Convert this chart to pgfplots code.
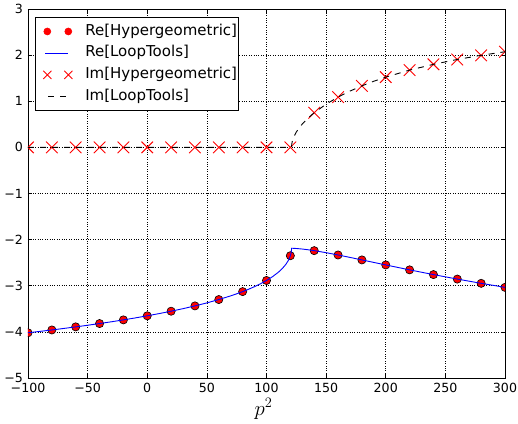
\documentclass[border=0pt]{standalone}
\usepackage{fontspec}
\setmainfont{DejaVu Sans}
\usepackage{pgfplots}
\pgfplotsset{compat=1.18}
\pgfplotsset{
  circleg/.style={legend image code/.code={%
    \path[draw=none, fill=none] (-10pt,-4pt) (39pt,4pt);
    \draw[##1, mark options={fill=red, draw=red, scale=0.85}] plot coordinates {(2pt,0pt) (23pt,0pt)};}},
  crossleg/.style={legend image code/.code={%
    \path[draw=none, fill=none] (-10pt,-4pt) (39pt,4pt);
    \draw[##1, mark options={draw=red, line width=0.9pt, scale=0.7}] plot coordinates {(2pt,0pt) (23pt,0pt)};}},
  lineleg/.style={legend image code/.code={%
    \path[draw=none, fill=none] (-10pt,-4pt) (39pt,4pt);
    \draw[##1, #1] (0pt,0pt) -- (23pt,0pt);}},
}

\begin{document}
\begin{tikzpicture}
\begin{axis}[
  at={(0,0)}, anchor=south west,
  scale only axis, width=477pt, height=369pt,
  xmin=-100, xmax=300, ymin=-5, ymax=3,
  xtick={-100,-50,...,300},
  xticklabels={−100,−50,0,50,100,150,200,250,300},
  ytick={-5,-4,...,3},
  yticklabels={−5,−4,−3,−2,−1,0,1,2,3},
  tick label style={font=\fontsize{12.6}{15}\selectfont},
  yticklabel style={xshift=-1.5pt},
  xticklabel style={yshift=-1.2pt},
  tick align=inside, major tick length=4.4pt,
  every tick/.style={black, line width=0.6pt},
  axis line style={black, line width=0.8pt},
  grid=major, major grid style={black, dotted, line width=0.6pt},
  xlabel={$p^2$},
  xlabel style={font=\fontsize{22}{26}\selectfont, at={(axis description cs:0.5,0)},
    anchor=base, yshift=-37.5pt, xshift=-3pt},
  clip marker paths=true,
  legend cell align=left,
  legend style={at={(0.0147,0.978)}, anchor=north west, draw,
    line width=0.6pt, fill=white, inner xsep=0pt, inner ysep=6.8pt,
    row sep=7.2pt,
    font=\fontsize{15}{18}\selectfont,
    nodes={inner xsep=1pt, inner ysep=0pt, text height=11pt, text depth=3.5pt}},
]
% Re[Hypergeometric]
\addplot[only marks, mark=*, mark size=4.1pt, mark options={fill=red, draw=black, line width=0.6pt}, circleg]
coordinates {
(-100,-4.0196) (-80,-3.9582) (-60,-3.8917) (-40,-3.8194) (-20,-3.7400)
(0,-3.6517) (20,-3.5519) (40,-3.4367) (60,-3.2993) (80,-3.1268)
(100,-2.8859) (120,-2.3492) (140,-2.2388) (160,-2.3326) (180,-2.4396)
(200,-2.5487) (220,-2.6555) (240,-2.7579) (260,-2.8552) (280,-2.9474)
(300,-3.0346)
};
\addlegendentry{Re[Hypergeometric]}
% Re[LoopTools]
\addplot[blue, line width=0.9pt, no marks, lineleg={draw=blue, line width=1pt}]
coordinates {
(-100,-4.0196) (-90,-3.9894) (-80,-3.9582) (-70,-3.9256) (-60,-3.8917)
(-50,-3.8564) (-40,-3.8194) (-30,-3.7807) (-20,-3.7400) (-10,-3.6971)
(0,-3.6517) (10,-3.6034) (20,-3.5519) (30,-3.4965) (40,-3.4367)
(50,-3.3713) (60,-3.2993) (70,-3.2188) (75,-3.1744) (80,-3.1268)
(81,-3.1169) (85,-3.0753) (90,-3.0189) (95,-2.9564) (100,-2.8859)
(105,-2.8043) (110,-2.7057) (113,-2.6334) (116,-2.5436) (118,-2.4654)
(119,-2.4153) (120,-2.3492) (120.5,-2.3019) (120.8,-2.2597) (120.95,-2.2232)
(120.99,-2.2029) (121,-2.1865) (121.05,-2.1866) (121.2,-2.1867) (121.5,-2.1870)
(122,-2.1876) (123,-2.1889) (125,-2.1923) (130,-2.2041) (135,-2.2199)
(140,-2.2388) (150,-2.2830) (160,-2.3326) (170,-2.3854) (180,-2.4396)
(190,-2.4943) (200,-2.5487) (220,-2.6555) (240,-2.7579) (260,-2.8552)
(280,-2.9474) (300,-3.0346)
};
\addlegendentry{Re[LoopTools]}
% Im[Hypergeometric]
\addplot[only marks, mark=x, mark size=8.2pt, mark options={draw=red, line width=0.9pt}, crossleg]
coordinates {
(-100,0) (-80,0) (-60,0) (-40,0) (-20,0) (0,0) (20,0) (40,0) (60,0)
(80,0) (100,0) (120,0) (140,0.7513) (160,1.0899) (180,1.3339)
(200,1.5230) (220,1.6751) (240,1.8006) (260,1.9060) (280,1.9958)
(300,2.0734)
};
\addlegendentry{Im[Hypergeometric]}
% Im[LoopTools]
\addplot[black, line width=0.9pt, dash pattern=on 6pt off 6pt, no marks,
  lineleg={draw=black, line width=0.9pt, dash pattern=on 6pt off 6pt, dash phase=-3pt}]
coordinates {
(-100,0) (121,0) (121.05,0.0367) (121.2,0.0735) (121.5,0.1164)
(122,0.1649) (123,0.2341) (125,0.3334) (130,0.5075) (135,0.6398)
(140,0.7513) (150,0.9369) (160,1.0899) (170,1.2204) (180,1.3339)
(190,1.4340) (200,1.5230) (220,1.6751) (240,1.8006) (260,1.9060)
(280,1.9958) (300,2.0734)
};
\addlegendentry{Im[LoopTools]}
\end{axis}
\pgfresetboundingbox
\path[use as bounding box] (-28pt,-45pt) rectangle (490pt,378pt);
\end{tikzpicture}
\end{document}
